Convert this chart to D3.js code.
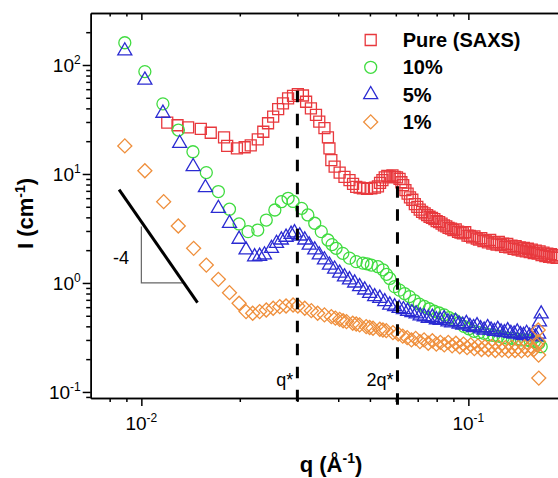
<!DOCTYPE html>
<html>
<head>
<meta charset="utf-8">
<script src="https://cdn.jsdelivr.net/npm/d3@7"></script>
<style>
  body { margin: 0; background: #fff; }
  svg { display: block; font-family: 'Liberation Sans', Arial, sans-serif; }
</style>
</head>
<body>
<svg width="558" height="478"></svg>
<script>
// [q (1/A), I (1/cm)]
const pure = [
  [0.0120, 29.6], [0.0129, 28.0], [0.0139, 26.8], [0.0152, 25.9], [0.0163, 23.9], [0.0179, 21.7],
  [0.0183, 18.1], [0.0196, 17.2], [0.0207, 17.6], [0.0216, 18.3], [0.0227, 20.8], [0.0236, 24.4],
  [0.0244, 29.2], [0.0253, 33.6], [0.0262, 39.3], [0.0271, 44.5], [0.0281, 49.5], [0.0291, 52.0],
  [0.0301, 54.0], [0.0312, 52.5], [0.0319, 46.0], [0.0330, 40.0], [0.0342, 34.8], [0.0350, 30.2],
  [0.0363, 26.3], [0.0372, 21.7], [0.0376, 17.2], [0.0381, 13.4], [0.0390, 11.7], [0.0404, 10.3],
  [0.0418, 9.4], [0.0433, 8.8], [0.0444, 8.1], [0.0454, 7.6], [0.0465, 7.5], [0.0476, 7.4],
  [0.0490, 7.3], [0.0505, 7.4], [0.0518, 7.5], [0.0529, 7.7], [0.0537, 8.3], [0.0546, 8.8],
  [0.0555, 9.3], [0.0565, 9.6], [0.0575, 9.5], [0.0586, 9.7], [0.0595, 9.4], [0.0605, 9.3],
  [0.0616, 9.0], [0.0624, 8.4], [0.0632, 7.9], [0.0642, 7.1], [0.0652, 6.6], [0.0663, 6.1],
  [0.0674, 5.8], [0.0686, 5.3], [0.0698, 5.0], [0.0710, 4.7], [0.0722, 4.5], [0.0735, 4.35],
  [0.0748, 4.2], [0.0761, 4.05], [0.0774, 3.95], [0.0787, 3.85], [0.0800, 3.7], [0.0814, 3.62],
  [0.0828, 3.5], [0.0842, 3.38], [0.0856, 3.3], [0.0870, 3.2], [0.0885, 3.15], [0.0900, 3.05],
  [0.0915, 3.1], [0.0930, 2.95], [0.0946, 2.9], [0.0962, 2.85], [0.0978, 2.92], [0.0994, 2.72],
  [0.1010, 2.7], [0.1027, 2.62], [0.1044, 2.68], [0.1061, 2.55], [0.1078, 2.5], [0.1095, 2.58],
  [0.1112, 2.42], [0.1130, 2.45], [0.1148, 2.36], [0.1166, 2.48], [0.1184, 2.3], [0.1202, 2.36],
  [0.1220, 2.25], [0.1239, 2.38], [0.1258, 2.22], [0.1277, 2.3], [0.1296, 2.15], [0.1315, 2.28],
  [0.1335, 2.12], [0.1355, 2.2], [0.1375, 2.06], [0.1395, 2.18], [0.1415, 2.02], [0.1436, 2.12],
  [0.1457, 1.98], [0.1478, 2.1], [0.1499, 1.95], [0.1520, 2.06], [0.1541, 1.92], [0.1563, 2.02],
  [0.1585, 1.88], [0.1607, 1.98], [0.1629, 1.86], [0.1651, 1.95], [0.1674, 1.8], [0.1697, 1.9],
  [0.1720, 1.76], [0.1743, 1.86], [0.1766, 1.74], [0.1790, 1.84], [0.1814, 1.72], [0.1838, 1.8],
  [0.1862, 1.7], [0.1886, 1.78]
]

const pct10 = [
  [0.0089, 160], [0.01025, 87], [0.01164, 44], [0.01298, 25.3], [0.01438, 16.0], [0.0158, 10.3],
  [0.0172, 6.9], [0.0186, 4.75], [0.0199, 3.48], [0.0212, 2.96], [0.0227, 3.06], [0.0241, 3.78],
  [0.0256, 4.67], [0.0268, 5.57], [0.0281, 5.98], [0.0291, 5.6], [0.0309, 4.84], [0.0323, 4.21],
  [0.0339, 3.53], [0.0355, 2.96], [0.0372, 2.48], [0.0383, 2.25], [0.0394, 2.08], [0.0413, 1.87],
  [0.0433, 1.69], [0.0454, 1.57], [0.0476, 1.52], [0.0490, 1.50], [0.0505, 1.46], [0.0529, 1.41],
  [0.0548, 1.32], [0.0562, 1.2], [0.0575, 1.10], [0.0595, 0.925], [0.0616, 0.86], [0.0638, 0.80],
  [0.0661, 0.75], [0.0684, 0.69], [0.0708, 0.64], [0.0733, 0.61], [0.0759, 0.58], [0.0786, 0.55],
  [0.0814, 0.53], [0.0843, 0.51], [0.0873, 0.48], [0.0904, 0.46], [0.0936, 0.43], [0.0969, 0.40],
  [0.1003, 0.38], [0.1040, 0.36], [0.1078, 0.35], [0.1116, 0.345], [0.1155, 0.335], [0.1195, 0.33],
  [0.1236, 0.325], [0.1278, 0.315], [0.1320, 0.31], [0.1363, 0.31], [0.1407, 0.305], [0.1452, 0.30],
  [0.1498, 0.30], [0.1545, 0.295], [0.1593, 0.29], [0.1642, 0.28], [0.1670, 0.26]
]

const pct5 = [
  [0.0089, 135], [0.01025, 72.8], [0.01164, 36.1], [0.0131, 19.1], [0.0144, 11.7], [0.0157, 7.5],
  [0.0172, 4.84], [0.0186, 3.53], [0.0199, 2.52], [0.0209, 2.01], [0.0222, 1.74], [0.0230, 1.76],
  [0.0238, 1.81], [0.0250, 2.08], [0.0259, 2.31], [0.0268, 2.48], [0.0277, 2.63], [0.0287, 2.80],
  [0.0294, 2.89], [0.0305, 2.70], [0.0316, 2.48], [0.0326, 2.23], [0.0339, 2.01], [0.0350, 1.81],
  [0.0363, 1.63], [0.0376, 1.46], [0.0390, 1.34], [0.0404, 1.23], [0.0418, 1.14], [0.0433, 1.07],
  [0.0449, 1.0], [0.0465, 0.925], [0.0482, 0.863], [0.0499, 0.804], [0.0517, 0.749], [0.0536, 0.724],
  [0.0555, 0.674], [0.0575, 0.628], [0.0595, 0.606], [0.0614, 0.585], [0.0633, 0.57], [0.0652, 0.55],
  [0.0672, 0.535], [0.0692, 0.52], [0.0712, 0.50], [0.0733, 0.49], [0.0754, 0.475], [0.0776, 0.485],
  [0.0798, 0.46], [0.0820, 0.455], [0.0843, 0.47], [0.0866, 0.44], [0.0889, 0.43], [0.0913, 0.445],
  [0.0937, 0.42], [0.0961, 0.41], [0.0986, 0.425], [0.1011, 0.40], [0.1037, 0.39], [0.1063, 0.405],
  [0.1090, 0.38], [0.1117, 0.37], [0.1145, 0.39], [0.1173, 0.37], [0.1201, 0.36], [0.1230, 0.375],
  [0.1259, 0.355], [0.1289, 0.35], [0.1319, 0.365], [0.1349, 0.345], [0.1380, 0.34], [0.1411, 0.355],
  [0.1443, 0.335], [0.1475, 0.33], [0.1507, 0.345], [0.1540, 0.325], [0.1573, 0.33], [0.1606, 0.32],
  [0.1640, 0.34], [0.1650, 0.44], [0.1670, 0.52]
]

const pct1 = [
  [0.0089, 18.1], [0.01025, 10.7], [0.0117, 5.57], [0.01297, 3.33], [0.01445, 2.08], [0.0158, 1.46],
  [0.0172, 1.08], [0.0186, 0.815], [0.0199, 0.652], [0.0209, 0.546], [0.0219, 0.527], [0.0230, 0.546],
  [0.0241, 0.565], [0.0253, 0.586], [0.0265, 0.606], [0.0277, 0.615], [0.0291, 0.628], [0.0301, 0.615],
  [0.0316, 0.586], [0.0331, 0.557], [0.0346, 0.527], [0.0363, 0.509], [0.0381, 0.491], [0.0392, 0.475],
  [0.0404, 0.464], [0.0414, 0.45], [0.0424, 0.442], [0.0443, 0.427], [0.0454, 0.42], [0.0465, 0.412],
  [0.0487, 0.397], [0.0499, 0.39], [0.0511, 0.384], [0.0536, 0.376], [0.0548, 0.37], [0.0561, 0.365],
  [0.0588, 0.35], [0.0610, 0.34], [0.0630, 0.325], [0.0650, 0.315], [0.0670, 0.30], [0.0690, 0.31],
  [0.0711, 0.29], [0.0732, 0.30], [0.0754, 0.28], [0.0776, 0.295], [0.0798, 0.275], [0.0821, 0.285],
  [0.0844, 0.27], [0.0868, 0.285], [0.0892, 0.265], [0.0916, 0.28], [0.0941, 0.26], [0.0966, 0.275],
  [0.0991, 0.255], [0.1017, 0.27], [0.1043, 0.25], [0.1070, 0.265], [0.1097, 0.245], [0.1124, 0.26],
  [0.1152, 0.245], [0.1180, 0.262], [0.1209, 0.24], [0.1238, 0.258], [0.1267, 0.242], [0.1297, 0.255],
  [0.1327, 0.238], [0.1358, 0.258], [0.1389, 0.24], [0.1421, 0.255], [0.1453, 0.238], [0.1486, 0.26],
  [0.1519, 0.242], [0.1552, 0.262], [0.1586, 0.245], [0.1620, 0.27], [0.1635, 0.37], [0.1638, 0.29],
  [0.1640, 0.218], [0.1642, 0.134]
]

const seriesNames = ['Pure (SAXS)', '10%', '5%', '1%']
const majorX = [0.01, 0.1]
const minorX = [0.008, 0.009, 0.02, 0.03, 0.04, 0.05, 0.06, 0.07, 0.08, 0.09, 0.2]
const majorY = [0.1, 1, 10, 100]
const minorY = [0.09, 0.2, 0.3, 0.4, 0.5, 0.6, 0.7, 0.8, 0.9, 2, 3, 4, 5, 6, 7, 8, 9,
  20, 30, 40, 50, 60, 70, 80, 90, 200]

// peak guides: q*, 2q*
const peaks = [{ q: 0.030, top: 58, label: 'q*' }, { q: 0.0607, top: 7.7, label: '2q*' }]
const peakBottom = 0.076
// q^-4 slope guide
const slopeLine = [[0.00855, 7.2], [0.01485, 0.66]]
const slopeTri = [[0.01, 3.3], [0.01, 1.0], [0.0134, 1.0]]
const slopeText = [0.00866, 1.7]

const colors = ['#e8383d', '#40dc40', '#2b2bd2', '#ef8f3c']

const svg = d3.select('svg')
const width = +svg.attr('width')
const height = +svg.attr('height')

const plot = { left: 90.7, top: 13, bottom: 398, right: 566.8 }

const xScale = d3.scaleLog().domain([0.007, 0.2]).range([plot.left, plot.right])
const yScale = d3.scaleLog().domain([0.088, 300]).range([plot.bottom, plot.top])

const sq = d3.symbol(d3.symbolSquare, 121)
const shapes = [
  { path: sq(), rot: 0 },
  { path: d3.symbol(d3.symbolCircle, 113)(), rot: 0 },
  { path: d3.symbol(d3.symbolTriangle, 85)(), rot: 0 },
  { path: d3.symbol(d3.symbolSquare, 98)(), rot: 45 }
]

const allData = [pure, pct10, pct5, pct1]

// axes
const styleAxis = (g) => {
  g.selectAll('path, line').attr('stroke', '#000').attr('stroke-width', 1.5)
  g.selectAll('text').remove()
}

svg.append('g')
  .attr('transform', `translate(0,${plot.bottom})`)
  .call(d3.axisBottom(xScale).tickValues(majorX).tickSize(8).tickSizeOuter(0))
  .call(styleAxis)
svg.append('g')
  .attr('transform', `translate(0,${plot.bottom})`)
  .call(d3.axisBottom(xScale).tickValues(minorX).tickSize(4).tickSizeOuter(0))
  .call(styleAxis)
svg.append('g')
  .attr('transform', `translate(0,${plot.top})`)
  .call(d3.axisBottom(xScale).tickValues(majorX).tickSize(7).tickSizeOuter(0))
  .call(styleAxis)
svg.append('g')
  .attr('transform', `translate(0,${plot.top})`)
  .call(d3.axisBottom(xScale).tickValues(minorX).tickSize(3.5).tickSizeOuter(0))
  .call(styleAxis)
svg.append('g')
  .attr('transform', `translate(${plot.left},0)`)
  .call(d3.axisLeft(yScale).tickValues(majorY).tickSize(8).tickSizeOuter(0))
  .call(styleAxis)
svg.append('g')
  .attr('transform', `translate(${plot.left},0)`)
  .call(d3.axisLeft(yScale).tickValues(minorY).tickSize(4.5).tickSizeOuter(0))
  .call(styleAxis)

const expOf = (v) => String(Math.round(Math.log10(v)))

const addPow = (text, v) => {
  text.append('tspan').text('10')
  text.append('tspan').attr('dy', -8).attr('font-size', 12).text(expOf(v))
}

svg.append('g').selectAll('text').data(majorY).enter().append('text')
  .attr('x', plot.left - 10)
  .attr('y', (d) => yScale(d) + 7)
  .attr('text-anchor', 'end')
  .attr('font-size', 19)
  .each(function (d) { addPow(d3.select(this), d) })

svg.append('g').selectAll('text').data(majorX).enter().append('text')
  .attr('x', (d) => xScale(d))
  .attr('y', 430)
  .attr('text-anchor', 'middle')
  .attr('font-size', 19)
  .each(function (d) { addPow(d3.select(this), d) })

// axis titles
const yTitle = svg.append('text')
  .attr('transform', `translate(33,${(plot.top + plot.bottom) / 2 + 8}) rotate(-90)`)
  .attr('text-anchor', 'middle')
  .attr('font-size', 22)
  .attr('font-weight', 'bold')
yTitle.append('tspan').text('I (cm')
yTitle.append('tspan').attr('dy', -8).attr('font-size', 14).text('-1')
yTitle.append('tspan').attr('dy', 8).text(')')

const xTitle = svg.append('text')
  .attr('x', 331)
  .attr('y', 472)
  .attr('text-anchor', 'middle')
  .attr('font-size', 22)
  .attr('font-weight', 'bold')
xTitle.append('tspan').text('q (Å')
xTitle.append('tspan').attr('dy', -9).attr('font-size', 14).text('-1')
xTitle.append('tspan').attr('dy', 9).text(')')

// slope guide
const line = d3.line().x((d) => xScale(d[0])).y((d) => yScale(d[1]))

svg.append('path')
  .attr('d', line(slopeTri))
  .attr('fill', 'none')
  .attr('stroke', '#666')
  .attr('stroke-width', 1.2)

svg.append('path')
  .attr('d', line(slopeLine))
  .attr('stroke', '#000')
  .attr('stroke-width', 3)

svg.append('text')
  .attr('x', xScale(slopeText[0]))
  .attr('y', yScale(slopeText[1]) + 6)
  .attr('text-anchor', 'middle')
  .attr('font-size', 18)
  .text('-4')

// data markers
allData.forEach((data, i) => {
  svg.append('g')
    .selectAll('path')
    .data(data)
    .enter()
    .append('path')
    .attr('d', shapes[i].path)
    .attr('transform', (d) => `translate(${xScale(d[0])},${yScale(d[1])}) rotate(${shapes[i].rot})`)
    .attr('fill', 'none')
    .attr('stroke', colors[i])
    .attr('stroke-width', 1.3)
})

// q* lines
peaks.forEach((p) => {
  svg.append('path')
    .attr('d', line([[p.q, p.top], [p.q, peakBottom]]))
    .attr('stroke', '#000')
    .attr('stroke-width', 3)
    .attr('stroke-dasharray', '11.5,11.5')

  svg.append('text')
    .attr('x', xScale(p.q) - 4)
    .attr('y', 386)
    .attr('text-anchor', 'end')
    .attr('font-size', 18)
    .text(p.label)
})

// legend
const legend = svg.append('g').attr('transform', 'translate(370.7,40)')
seriesNames.forEach((name, i) => {
  const row = legend.append('g').attr('transform', `translate(0,${i * 27.3})`)
  row.append('path')
    .attr('d', shapes[i].path)
    .attr('transform', `rotate(${shapes[i].rot})`)
    .attr('fill', 'none')
    .attr('stroke', colors[i])
    .attr('stroke-width', 1.3)
  row.append('text')
    .attr('x', 32)
    .attr('y', 7)
    .attr('font-size', 20)
    .attr('font-weight', 'bold')
    .text(name)
})
</script>
</body>
</html>
